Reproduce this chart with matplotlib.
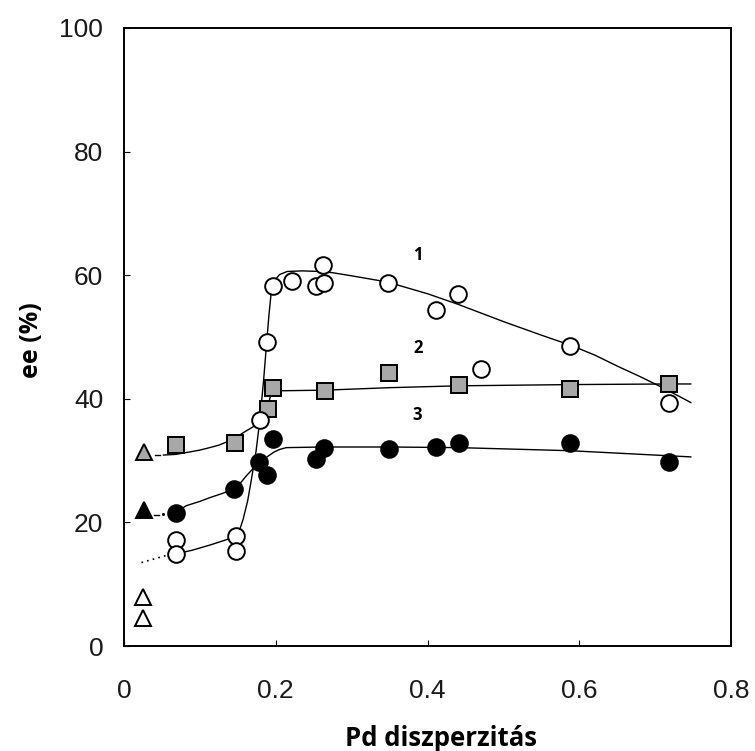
import matplotlib
matplotlib.use("Agg")
import matplotlib.pyplot as plt

# ---- data ----
open_x = [0.068, 0.068, 0.148, 0.148, 0.179, 0.188, 0.196, 0.222, 0.253, 0.262, 0.264,
          0.348, 0.411, 0.440, 0.471, 0.588, 0.718]
open_y = [17.1, 14.9, 17.8, 15.4, 36.5, 49.2, 58.2, 59.0, 58.3, 61.6, 58.7,
          58.8, 54.4, 57.0, 44.9, 48.6, 39.4]

sq_x = [0.068, 0.146, 0.190, 0.196, 0.265, 0.349, 0.441, 0.588, 0.718]
sq_y = [32.5, 32.9, 38.4, 41.8, 41.2, 44.2, 42.2, 41.6, 42.4]

fill_x = [0.068, 0.145, 0.178, 0.189, 0.197, 0.253, 0.263, 0.349, 0.411, 0.441, 0.588, 0.718]
fill_y = [21.6, 25.4, 29.7, 27.7, 33.5, 30.3, 32.1, 31.8, 32.2, 32.9, 32.9, 29.7]

tri_gray_x, tri_gray_y = [0.027], [31.4]
tri_black_x, tri_black_y = [0.027], [22.0]
tri_open_x, tri_open_y = [0.025, 0.025], [7.9, 4.6]

# trend curves
c1_x = [0.068, 0.09, 0.115, 0.135, 0.148, 0.153, 0.157, 0.163, 0.168, 0.174, 0.179,
        0.184, 0.188, 0.191, 0.194, 0.199, 0.205, 0.215, 0.235, 0.258, 0.275, 0.30,
        0.347, 0.40, 0.44, 0.50, 0.55, 0.588, 0.62, 0.65, 0.68, 0.71, 0.747]
c1_y = [14.9, 15.5, 16.4, 17.2, 17.8, 19.0, 20.5, 23.5, 27.0, 31.5, 36.5,
        43.0, 49.1, 53.5, 57.2, 59.2, 60.1, 60.6, 60.7, 60.6, 60.4, 59.9,
        58.9, 57.0, 55.3, 52.5, 50.3, 48.7, 47.1, 45.3, 43.6, 41.8, 39.4]
c1_ext_x = [0.023, 0.060]
c1_ext_y = [13.5, 14.8]

c2_x = [0.052, 0.068, 0.082, 0.10, 0.113, 0.125, 0.135, 0.148, 0.161, 0.172, 0.179,
        0.186, 0.190, 0.192, 0.195, 0.207, 0.265, 0.35, 0.441, 0.588, 0.718, 0.747]
c2_y = [30.9, 31.0, 31.3, 31.7, 32.1, 32.5, 33.0, 33.8, 34.8, 35.6, 36.3,
        37.4, 38.3, 40.0, 41.0, 41.3, 41.4, 41.8, 42.1, 42.3, 42.4, 42.4]
c2_ext_x = [0.041, 0.047]
c2_ext_y = [30.9, 30.9]

c3_x = [0.068, 0.082, 0.10, 0.113, 0.13, 0.145, 0.153, 0.161, 0.170, 0.178, 0.185,
        0.192, 0.198, 0.205, 0.214, 0.263, 0.35, 0.441, 0.588, 0.747]
c3_y = [21.6, 22.7, 23.4, 24.0, 24.7, 25.4, 26.3, 27.5, 28.7, 29.7, 30.3,
        30.9, 31.4, 31.8, 32.1, 32.2, 32.2, 32.1, 31.6, 30.6]
c3_ext_x = [0.039, 0.046]
c3_ext_y = [21.2, 21.2]
c3_dot_x, c3_dot_y = [0.052], [21.3]

curve_labels = ["1", "2", "3"]
label_x = [0.387, 0.387, 0.386]
label_y = [63.2, 48.3, 37.3]

x_ticks = [0, 0.2, 0.4, 0.6, 0.8]
x_ticklabels = ["0", "0.2", "0.4", "0.6", "0.8"]
y_ticks = [0, 20, 40, 60, 80, 100]
y_ticklabels = ["0", "20", "40", "60", "80", "100"]

# ---- figure ----
fig = plt.figure(figsize=(7.55, 7.51), dpi=100)
ax = fig.add_axes([124 / 755, 1 - 646 / 751, (731 - 124) / 755, (646 - 28) / 751])

lw = 1.0
ax.plot(c1_x, c1_y, color="black", lw=lw, zorder=2)
ax.plot(c1_ext_x, c1_ext_y, color="black", lw=1.2, ls=(0, (1, 2.5)), zorder=2)
ax.plot(c2_x, c2_y, color="black", lw=lw, zorder=2)
ax.plot(c2_ext_x, c2_ext_y, color="black", lw=lw, zorder=2)
ax.plot(c3_x, c3_y, color="black", lw=lw, zorder=2)
ax.plot(c3_ext_x, c3_ext_y, color="black", lw=lw, zorder=2)
ax.plot(c3_dot_x, c3_dot_y, ls="none", marker="o", ms=1.2, color="black", zorder=2)

ms = 12
mew = 1.4
ax.plot(sq_x, sq_y, ls="none", marker="s", ms=ms - 0.3, mfc="#a8a8a8", mec="black", mew=mew, zorder=3)
ax.plot(fill_x, fill_y, ls="none", marker="o", ms=ms, mfc="black", mec="black", mew=mew, zorder=3)
ax.plot(open_x, open_y, ls="none", marker="o", ms=ms, mfc="white", mec="black", mew=mew, zorder=4)
ax.plot(tri_gray_x, tri_gray_y, ls="none", marker="^", ms=ms - 1, mfc="#a8a8a8", mec="black", mew=mew, zorder=3)
ax.plot(tri_black_x, tri_black_y, ls="none", marker="^", ms=ms - 1, mfc="black", mec="black", mew=mew, zorder=3)
ax.plot(tri_open_x, tri_open_y, ls="none", marker="^", ms=ms - 1, mfc="white", mec="black", mew=mew, zorder=3)

for t, lx, ly in zip(curve_labels, label_x, label_y):
    ax.text(lx, ly, t, ha="center", va="center", fontsize=12, fontweight="bold",
            family="Open Sans")

ax.set_xlim(0, 0.8)
ax.set_ylim(0, 100)
ax.set_xticks(x_ticks)
ax.set_xticklabels(x_ticklabels)
ax.set_yticks(y_ticks)
ax.set_yticklabels(y_ticklabels)
for lab in ax.get_xticklabels() + ax.get_yticklabels():
    lab.set_family("Liberation Sans")
    lab.set_fontsize(19)
    lab.set_color("#1a1a1a")
ax.tick_params(axis="x", direction="in", length=4, width=0.8, pad=24)
ax.tick_params(axis="y", direction="in", length=4, width=0.8, pad=15)
for s in ax.spines.values():
    s.set_linewidth(1.4)

ax.set_xlabel("Pd diszperzitás", fontsize=18.5, fontweight="bold", family="Open Sans")
ax.xaxis.set_label_coords((441 - 124) / 607, (646 - 725) / 618)
ax.set_ylabel("ee (%)", fontsize=18, fontweight="bold", family="Open Sans")
ax.yaxis.set_label_coords((44 - 124) / 607, (646 - 340) / 618)

fig.savefig("out.png", dpi=100)
